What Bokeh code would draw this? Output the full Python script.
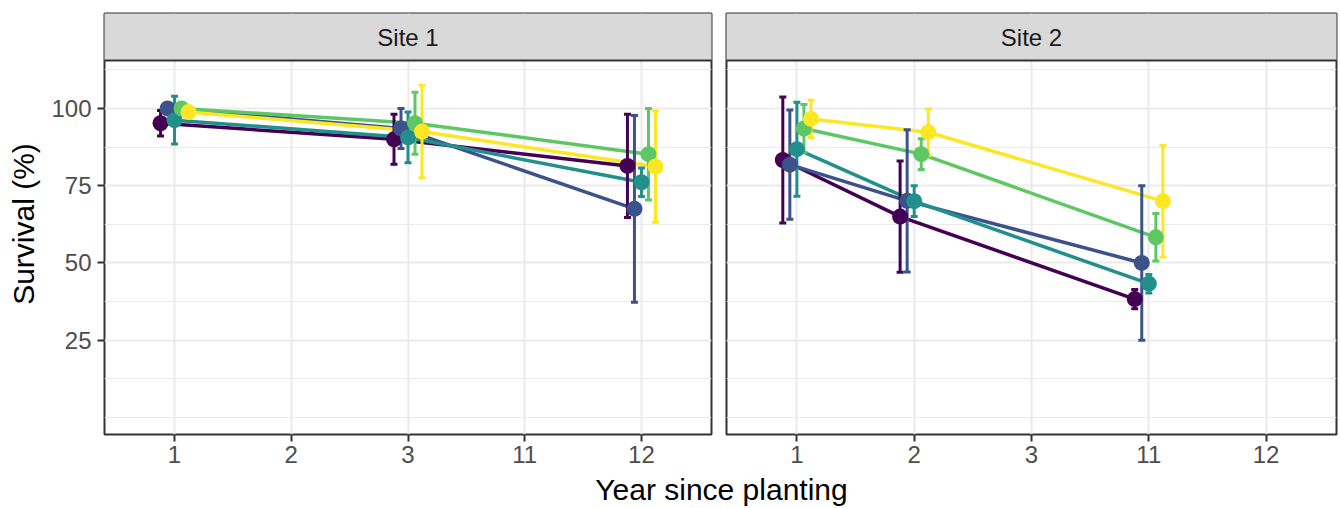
from bokeh.plotting import figure
from bokeh.models import ColumnDataSource, FactorRange, FixedTicker, Label
from bokeh.transform import dodge
from bokeh.layouts import row, column
from bokeh.embed import file_html
from bokeh.resources import INLINE
from bokeh.core.properties import value

# ---------------- data ----------------
x_cats = ["1", "2", "3", "11", "12"]
groups = ["G1", "G2", "G3", "G4", "G5"]
colors = ["#440154", "#3B528B", "#21908C", "#5DC863", "#FDE725"]

site1_years = ["1", "3", "12"]
site1_g1 = [95.2, 90.0, 81.4]
site1_g2 = [100.0, 93.5, 67.5]
site1_g3 = [96.2, 90.6, 76.1]
site1_g4 = [100.0, 95.2, 85.2]
site1_g5 = [98.8, 92.5, 81.2]
site1_g1_se = [4.1, 8.1, 16.7]
site1_g2_se = [0.0, 6.5, 30.2]
site1_g3_se = [7.7, 8.2, 4.6]
site1_g4_se = [0.0, 10.0, 14.8]
site1_g5_se = [0.0, 15.0, 18.0]

site2_years = ["1", "2", "11"]
site2_g1 = [83.3, 65.0, 38.3]
site2_g2 = [81.8, 70.1, 50.0]
site2_g3 = [86.8, 70.0, 43.3]
site2_g4 = [93.5, 85.2, 58.3]
site2_g5 = [96.6, 92.3, 70.0]
site2_g1_se = [20.4, 18.0, 3.1]
site2_g2_se = [17.7, 23.0, 25.0]
site2_g3_se = [15.2, 5.0, 3.0]
site2_g4_se = [7.8, 5.0, 7.7]
site2_g5_se = [6.0, 7.5, 18.1]

site_names = ["Site 1", "Site 2"]
y_ticks = [25, 50, 75, 100]
y_minor = [0, 12.5, 37.5, 62.5, 87.5, 112.5]

# ---------------- style ----------------
FONT = "Liberation Sans"
Y0, Y1 = -5.5, 115.5
PANEL_PX = 374
STRIP_PX = 47
YTOP = Y1 + STRIP_PX * (Y1 - Y0) / PANEL_PX
OFFSETS = [-0.12, -0.06, 0.0, 0.06, 0.12]
GRID = "#EBEBEB"
BORDER = "#333333"


def make_panel(title, years, means, ses, width, left_border, show_y):
    xr = FactorRange(factors=x_cats, range_padding=0.1, range_padding_units="absolute")
    p = figure(width=width, height=468, x_range=xr, y_range=(Y0, YTOP),
               toolbar_location=None, output_backend="svg", title=None,
               min_border_left=left_border, min_border_right=2,
               min_border_top=13, min_border_bottom=34)
    p.background_fill_color = "white"
    p.border_fill_color = "white"
    p.outline_line_color = BORDER
    p.outline_line_width = 2

    ticker = FixedTicker(ticks=y_ticks, minor_ticks=y_minor)
    p.yaxis.ticker = ticker
    p.ygrid.ticker = ticker
    p.grid.grid_line_color = GRID
    p.grid.grid_line_width = 2.2
    p.ygrid.minor_grid_line_color = GRID
    p.ygrid.minor_grid_line_width = 1.1

    for ax in (p.xaxis, p.yaxis):
        ax.axis_line_color = None
        ax.major_tick_line_color = BORDER
        ax.major_tick_line_width = 2
        ax.major_tick_out = 7
        ax.major_tick_in = 0
        ax.minor_tick_line_color = None
        ax.major_label_text_font = FONT
        ax.major_label_text_font_size = "24px"
        ax.major_label_text_color = "#4D4D4D"
    p.xaxis.major_label_standoff = 4
    p.yaxis.major_label_standoff = 6
    if show_y:
        p.yaxis.axis_label = "Survival (%)"
        p.yaxis.axis_label_text_font = FONT
        p.yaxis.axis_label_text_font_size = "30px"
        p.yaxis.axis_label_text_font_style = "normal"
        p.yaxis.axis_label_text_color = "black"
        p.yaxis.axis_label_standoff = 8
    else:
        p.yaxis.visible = False

    # strip
    p.quad(left=-1, right=10, bottom=Y1, top=YTOP + 10,
           fill_color="#D9D9D9", line_color=BORDER, line_width=2)
    p.text(x=["3"], y=[(Y1 + YTOP) / 2], text=[title], text_align="center",
           text_baseline="middle", text_font=value(FONT), text_font_size="24px",
           text_color="#1A1A1A")

    sources = []
    for i in range(len(groups)):
        lo = [m - s for m, s in zip(means[i], ses[i])]
        hi = [m + s for m, s in zip(means[i], ses[i])]
        sources.append(ColumnDataSource(dict(x=years, y=means[i], lo=lo, hi=hi)))

    for i, src in enumerate(sources):
        xd = dodge("x", OFFSETS[i], range=xr)
        p.line(x=xd, y="y", source=src, line_color=colors[i], line_width=3.5)
    for i, src in enumerate(sources):
        xd = dodge("x", OFFSETS[i], range=xr)
        p.segment(x0=xd, y0="lo", x1=xd, y1="hi", source=src,
                  line_color=colors[i], line_width=3)
        p.scatter(x=xd, y="lo", source=src, marker="dash", size=7,
                  line_color=colors[i], line_width=3)
        p.scatter(x=xd, y="hi", source=src, marker="dash", size=7,
                  line_color=colors[i], line_width=3)
    for i, src in enumerate(sources):
        xd = dodge("x", OFFSETS[i], range=xr)
        p.scatter(x=xd, y="y", source=src, size=16, fill_color=colors[i],
                  line_color=colors[i], line_width=0)
    return p


p1 = make_panel(site_names[0], site1_years,
                [site1_g1, site1_g2, site1_g3, site1_g4, site1_g5],
                [site1_g1_se, site1_g2_se, site1_g3_se, site1_g4_se, site1_g5_se],
                width=713, left_border=104, show_y=True)
p2 = make_panel(site_names[1], site2_years,
                [site2_g1, site2_g2, site2_g3, site2_g4, site2_g5],
                [site2_g1_se, site2_g2_se, site2_g3_se, site2_g4_se, site2_g5_se],
                width=625, left_border=13, show_y=False)

p3 = figure(width=1338, height=40, x_range=(0, 1338), y_range=(0, 40),
            toolbar_location=None, output_backend="svg", title=None,
            min_border_left=0, min_border_right=0, min_border_top=0, min_border_bottom=0)
p3.axis.visible = False
p3.grid.visible = False
p3.outline_line_color = None
p3.add_layout(Label(x=721, y=19, text="Year since planting", text_align="center",
                    text_baseline="middle", text_font=FONT, text_font_size="30px",
                    text_color="black"))

layout = column(row(p1, p2, spacing=0), p3, spacing=0)
open("out.html", "w").write(file_html(layout, INLINE))
